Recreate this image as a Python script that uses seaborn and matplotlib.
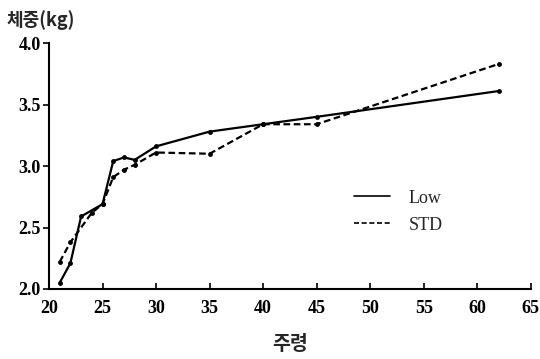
import matplotlib
matplotlib.use("Agg")
import matplotlib.pyplot as plt
import seaborn as sns
import pandas as pd

weeks_low = [21, 22, 23, 25, 26, 27, 28, 30, 35, 40, 45, 62]
weight_low = [2.05, 2.21, 2.59, 2.69, 3.04, 3.07, 3.05, 3.16, 3.28, 3.34, 3.40, 3.61]
weeks_std = [21, 22, 24, 25, 26, 27, 28, 30, 35, 40, 45, 62]
weight_std = [2.22, 2.38, 2.62, 2.69, 2.91, 2.97, 3.01, 3.11, 3.10, 3.34, 3.34, 3.83]
groups = ["Low", "STD"]
x_ticks = [20, 25, 30, 35, 40, 45, 50, 55, 60, 65]
y_ticks = [2.0, 2.5, 3.0, 3.5, 4.0]

df = pd.concat([
    pd.DataFrame({"week": weeks_low, "weight": weight_low, "group": groups[0]}),
    pd.DataFrame({"week": weeks_std, "weight": weight_std, "group": groups[1]}),
], ignore_index=True)

sns.set_theme(style="ticks")
plt.rcParams["font.family"] = ["Liberation Serif", "DejaVu Serif"]

fig = plt.figure(figsize=(5.4, 3.59), dpi=100)
ax = fig.add_axes([0.0907, 0.195, 0.8923, 0.685])

sns.lineplot(data=df, x="week", y="weight", style="group", ax=ax,
             dashes={"Low": "", "STD": (3, 1.6)}, color="black",
             markers={"Low": "o", "STD": "o"}, markersize=3.5,
             markeredgewidth=0, linewidth=1.6, sort=False)

ax.set_xlim(20, 65)
ax.set_ylim(2.0, 4.0)
ax.set_xticks(x_ticks)
ax.set_yticks(y_ticks)
ax.set_xticklabels([str(t) for t in x_ticks], fontsize=13, fontweight="bold")
ax.set_yticklabels([f"{t:.1f}" for t in y_ticks], fontsize=13, fontweight="bold")
ax.tick_params(axis="x", direction="in", length=4, width=1.2, pad=8, colors="black")
ax.tick_params(axis="y", direction="out", length=4, width=1.2, pad=2, colors="black")
for s in ["top", "right"]:
    ax.spines[s].set_visible(False)
for s in ["left", "bottom"]:
    ax.spines[s].set_linewidth(1.5)
    ax.spines[s].set_color("black")

ax.set_xlabel("")
ax.set_ylabel("")
fig.text(0.013, 0.945, "체중(kg)", fontsize=13, fontweight="bold",
         family=["Noto Sans CJK KR", "DejaVu Sans"], ha="left", va="center")
fig.text(0.537, 0.04, "주령", fontsize=14, fontweight="bold",
         family=["Noto Sans CJK KR", "DejaVu Sans"], ha="center", va="center")

leg = ax.legend(loc="upper left", bbox_to_anchor=(0.6, 0.47), frameon=False,
                handlelength=2.0, handletextpad=1.0, labelspacing=0.55,
                prop={"family": "Liberation Serif", "size": 13}, title=None)
for h in leg.get_lines():
    h.set_marker("")
    h.set_linewidth(1.2)

fig.savefig("out.png", dpi=100, facecolor="white")
